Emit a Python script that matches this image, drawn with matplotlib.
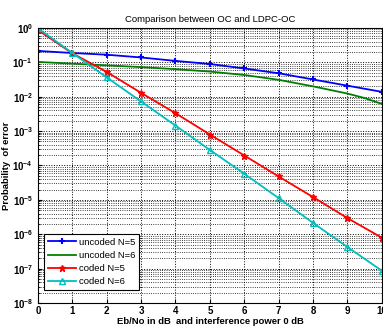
import matplotlib.pyplot as plt
import numpy as np

# Eb/No values (dB)
ebno = [0, 1, 2, 3, 4, 5, 6, 7, 8, 9, 10]
ebno_u6 = [0, 1, 2, 3, 4, 5, 6, 7, 8, 9, 9.5, 10]

# log10 of error probability
log_uncoded5 = [-0.67, -0.73, -0.78, -0.86, -0.96, -1.05, -1.18, -1.32, -1.50, -1.68, -1.86]
log_uncoded6 = [-0.99, -1.04, -1.09, -1.14, -1.20, -1.27, -1.37, -1.51, -1.70, -1.91, -2.04, -2.21]
log_coded5 = [-0.06, -0.74, -1.28, -1.89, -2.48, -3.10, -3.71, -4.32, -4.92, -5.53, -6.10]
log_coded6 = [-0.01, -0.73, -1.44, -2.14, -2.84, -3.55, -4.24, -4.95, -5.67, -6.37, -7.06]

labels = ['uncoded N=5', 'uncoded N=6', 'coded N=5', 'coded N=6']

plt.rcParams['font.family'] = ['Liberation Sans', 'DejaVu Sans']

fig = plt.figure(figsize=(3.83, 3.28), dpi=100)
ax = fig.add_axes([0.099, 0.076, 0.898, 0.839])

ax.semilogy(ebno, 10 ** np.array(log_uncoded5), color='#0000ff', marker='+',
            markersize=5, markeredgewidth=1.5, linewidth=1.3, label=labels[0])
ax.semilogy(ebno_u6, 10 ** np.array(log_uncoded6), color='#007f00',
            linewidth=1.3, label=labels[1])
ax.semilogy(ebno, 10 ** np.array(log_coded5), color='#ff0000', marker='*',
            markersize=5, linewidth=1.3, label=labels[2])
ax.semilogy(ebno, 10 ** np.array(log_coded6), color='#00bfbf', marker='^',
            markersize=5, markerfacecolor='none', linewidth=1.3, label=labels[3])

ax.set_xlim(0, 10)
ax.set_ylim(1e-8, 1)
ax.set_xticks(range(0, 11))
ax.set_yticks([10.0 ** k for k in range(-8, 1)])

ax.grid(True, which='major', linestyle=':', color='black', linewidth=0.7)
ax.grid(True, which='minor', axis='y', linestyle=':', color='black', linewidth=0.6)
ax.tick_params(axis='both', which='major', labelsize=7, direction='in', length=3)
ax.tick_params(axis='x', which='major', pad=2)
ax.tick_params(axis='y', which='minor', direction='in', length=1.5)
for lab in ax.get_xticklabels() + ax.get_yticklabels():
    lab.set_fontweight('bold')

ax.set_title('Comparison between OC and LDPC-OC', fontsize=6.8, pad=4)
ax.set_xlabel('Eb/No in dB  and interference power 0 dB', fontsize=6.8,
              fontweight='bold', labelpad=1)
ax.set_ylabel('Probability  of error', fontsize=6.8, fontweight='bold', labelpad=1)

leg = ax.legend(loc='lower left', fontsize=6.8, frameon=True, fancybox=False,
                edgecolor='black', framealpha=1, borderpad=0.4, labelspacing=0.45,
                handlelength=3.0, handletextpad=0.3, bbox_to_anchor=(0.005, 0.03))
leg.get_frame().set_linewidth(0.8)

fig.savefig('out.png', dpi=100)
